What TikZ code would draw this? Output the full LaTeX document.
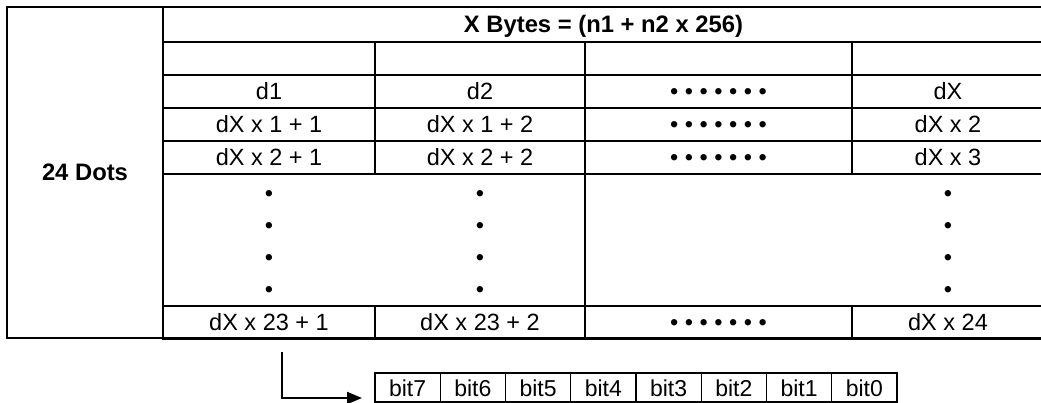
\documentclass[tikz,border=0pt]{standalone}
\usepackage{fontspec}
\setmainfont{Liberation Sans}
\usetikzlibrary{arrows.meta}

\begin{document}
\begin{tikzpicture}[x=1pt,y=1pt,node distance={65.25pt},
cell/.style={draw,rectangle,line width = 2.2pt,inner sep=0pt,minimum height=33pt,text height=17pt,text depth=0pt,font=\fontsize{23.5}{32}\selectfont},
bold/.style={font=\fontsize{23.8}{32}\selectfont\bfseries},
col1/.style={cell,minimum width=212pt},
col2/.style={cell,minimum width=210pt},
col3/.style={cell,minimum width=267pt},
col4/.style={cell,minimum width=192pt},
bit/.style={draw,rectangle,line width = 1.4pt,inner sep=0pt,minimum width=65.25pt,minimum height=29pt,text height=17pt,text depth=0pt,font=\fontsize{23}{32}\selectfont},
vdots/.style={align=center,inner sep=0pt,font=\fontsize{23.5}{32}\selectfont}]
\useasboundingbox (0,0) rectangle (1041,-403);

\node[cell,bold,minimum width=156pt,minimum height=331pt] (dots) at (85,-172.5) {24 Dots};
\node[cell,bold,minimum width=881pt,minimum height=35pt] (head) at (603.5,-24.5) {X Bytes = (n1 + n2 x 256)};

\node[col1] (e1) at (269,-58.5) {};
\node[col2] (e2) at (480,-58.5) {};
\node[col3] (e3) at (718.5,-58.5) {};
\node[col4] (e4) at (948,-58.5) {};

\node[col1] (a1) at (269,-91.5) {d1};
\node[col2] (a2) at (480,-91.5) {d2};
\node[col3] (a3) at (718.5,-91.5) {• • • • • • •};
\node[col4] (a4) at (948,-91.5) {dX};

\node[col1] (b1) at (269,-124.5) {dX x 1 + 1};
\node[col2] (b2) at (480,-124.5) {dX x 1 + 2};
\node[col3] (b3) at (718.5,-124.5) {• • • • • • •};
\node[col4] (b4) at (948,-124.5) {dX x 2};

\node[col1] (c1) at (269,-157.5) {dX x 2 + 1};
\node[col2] (c2) at (480,-157.5) {dX x 2 + 2};
\node[col3] (c3) at (718.5,-157.5) {• • • • • • •};
\node[col4] (c4) at (948,-157.5) {dX x 3};

\node[cell,minimum width=422pt,minimum height=132pt] (gapL) at (374,-240) {};
\node[cell,minimum width=459pt,minimum height=132pt] (gapR) at (814.5,-240) {};
\node[vdots] (v1) at (269,-244.5) {•\\•\\•\\•};
\node[vdots] (v2) at (480,-244.5) {•\\•\\•\\•};
\node[vdots] (v4) at (948,-244.5) {•\\•\\•\\•};

\node[col1,minimum height=32.5pt] (z1) at (269,-322.25) {dX x 23 + 1};
\node[col2,minimum height=32.5pt] (z2) at (480,-322.25) {dX x 23 + 2};
\node[col3,minimum height=32.5pt] (z3) at (718.5,-322.25) {• • • • • • •};
\node[col4,minimum height=32.5pt] (z4) at (948,-322.25) {dX x 24};

\node[bit] (b7) at (407.6,-387.5) {bit7};
\node[bit] (b6) [right of=b7] {bit6};
\node[bit] (b5) [right of=b6] {bit5};
\node[bit] (b4) [right of=b5] {bit4};
\node[bit] (b3) [right of=b4] {bit3};
\node[bit] (b2) [right of=b3] {bit2};
\node[bit] (b1) [right of=b2] {bit1};
\node[bit] (b0) [right of=b1] {bit0};

\coordinate (from) at (282,-352);
\coordinate (to) at (362,-398);
\draw[-{Triangle[length=15pt,width=12pt]},line width = 2pt] (from) |- (to);

\end{tikzpicture}
\end{document}
